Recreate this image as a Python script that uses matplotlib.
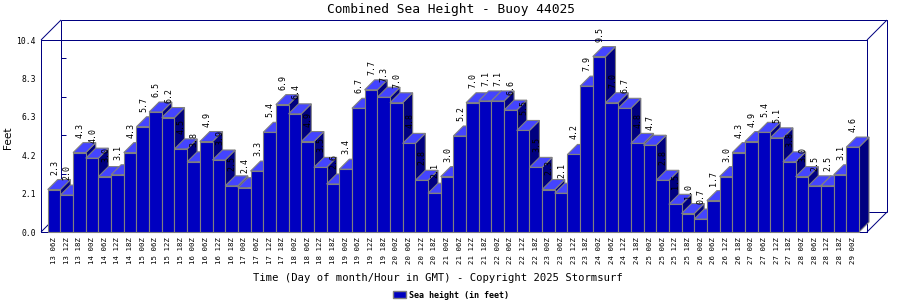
import matplotlib
matplotlib.use("Agg")
import matplotlib.pyplot as plt
from matplotlib.patches import Rectangle, Polygon, Patch

# ---------------- data ----------------
time_labels = [
    "13 06Z", "13 12Z", "13 18Z",
    "14 00Z", "14 06Z", "14 12Z", "14 18Z",
    "15 00Z", "15 06Z", "15 12Z", "15 18Z",
    "16 00Z", "16 06Z", "16 12Z", "16 18Z",
    "17 00Z", "17 06Z", "17 12Z", "17 18Z",
    "18 00Z", "18 06Z", "18 12Z", "18 18Z",
    "19 00Z", "19 06Z", "19 12Z", "19 18Z",
    "20 00Z", "20 06Z", "20 12Z", "20 18Z",
    "21 00Z", "21 06Z", "21 12Z", "21 18Z",
    "22 00Z", "22 06Z", "22 12Z", "22 18Z",
    "23 00Z", "23 06Z", "23 12Z", "23 18Z",
    "24 00Z", "24 06Z", "24 12Z", "24 18Z",
    "25 00Z", "25 06Z", "25 12Z", "25 18Z",
    "26 00Z", "26 06Z", "26 12Z", "26 18Z",
    "27 00Z", "27 06Z", "27 12Z", "27 18Z",
    "28 00Z", "28 06Z", "28 12Z", "28 18Z",
    "29 00Z",
]
sea_height = [
    2.3, 2.0, 4.3,
    4.0, 3.0, 3.1, 4.3,
    5.7, 6.5, 6.2, 4.5,
    3.8, 4.9, 3.9, 2.5,
    2.4, 3.3, 5.4, 6.9,
    6.4, 4.9, 3.5, 2.6,
    3.4, 6.7, 7.7, 7.3,
    7.0, 4.8, 2.8, 2.1,
    3.0, 5.2, 7.0, 7.1,
    7.1, 6.6, 5.5, 3.5,
    2.3, 2.1, 4.2, 7.9,
    9.5, 7.0, 6.7, 4.8,
    4.7, 2.8, 1.5, 1.0,
    0.7, 1.7, 3.0, 4.3,
    4.9, 5.4, 5.1, 3.8,
    3.0, 2.5, 2.5, 3.1,
    4.6,
]
y_ticks = [0.0, 2.08, 4.16, 6.24, 8.32, 10.4]
y_tick_labels = ["0.0", "2.1", "4.2", "6.3", "8.3", "10.4"]
y_max = 10.4

title = "Combined Sea Height - Buoy 44025"
x_title = "Time (Day of month/Hour in GMT) - Copyright 2025 Stormsurf"
y_title = "Feet"
legend_label = "Sea height (in feet)"

# ---------------- style ----------------
FRONT = "#0000c0"
TOP = "#4444ff"
SIDE = "#000080"
EDGE = "#808080"
FRAME = "#000080"
MONO = "DejaVu Sans Mono"
PX = 0.72  # one pixel in points at dpi 100

W, H, DPI = 900, 300, 100
fig = plt.figure(figsize=(W / DPI, H / DPI), dpi=DPI)
fig.patch.set_facecolor("white")

ax_left, ax_bottom, ax_w, ax_h = 41, 68, 826, 192  # pixels
ax = fig.add_axes([ax_left / W, ax_bottom / H, ax_w / W, ax_h / H])
x_min, x_max = -1.03, 64.13
ax.set_xlim(x_min, x_max)
ax.set_ylim(0, y_max)
ax.set_facecolor("none")

ppu_x = ax_w / (x_max - x_min)
ppu_y = ax_h / y_max
frame_d = 20   # px depth of the 3D box
bar_d = 10     # px depth of the bars
fdx, fdy = frame_d / ppu_x, frame_d / ppu_y
bdx, bdy = bar_d / ppu_x, bar_d / ppu_y

lw = PX
# spines = front plane of the box
for s in ax.spines.values():
    s.set_color(FRAME)
    s.set_linewidth(lw)
    s.set_zorder(1)

kw = dict(color=FRAME, lw=lw, clip_on=False, zorder=1, solid_capstyle="butt")
# back plane
ax.plot([x_min + fdx, x_max + fdx, x_max + fdx], [y_max + fdy, y_max + fdy, fdy], **kw)
ax.plot([x_min + fdx, x_min + fdx], [fdy, y_max + fdy], **kw)
ax.plot([x_min + fdx, x_max + fdx], [fdy, fdy], **kw)
# connectors
for xx, yy in [(x_min, y_max), (x_max, y_max), (x_max, 0), (x_min, 0)]:
    ax.plot([xx, xx + fdx], [yy, yy + fdy], **kw)
# back-plane ticks
for t in y_ticks[1:-1]:
    ax.plot([x_min + fdx, x_min + fdx + 5 / ppu_x], [t + fdy, t + fdy], **kw)

# bars
elw = 0.8
for i, v in enumerate(sea_height):
    z = 5 + i * 4
    l, r = i - 0.5, i + 0.5
    side = Polygon([(r, 0), (r + bdx, bdy), (r + bdx, v + bdy), (r, v)],
                   closed=True, facecolor=SIDE, edgecolor=EDGE, lw=elw, zorder=z,
                   clip_on=False)
    top = Polygon([(l, v), (r, v), (r + bdx, v + bdy), (l + bdx, v + bdy)],
                  closed=True, facecolor=TOP, edgecolor=EDGE, lw=elw, zorder=z + 1,
                  clip_on=False)
    front = Rectangle((l, 0), 1, v, facecolor=FRONT, edgecolor=EDGE, lw=elw,
                      zorder=z + 2, clip_on=False)
    ax.add_patch(side)
    ax.add_patch(top)
    ax.add_patch(front)
    ax.annotate(f"{v:.1f}", (i, v), xytext=(0.5, 15 * PX), textcoords="offset points",
                rotation=90, ha="center", va="bottom", fontsize=6, family=MONO,
                color="black", zorder=z + 3, annotation_clip=False)

# ticks
ax.set_xticks(range(len(time_labels)))
ax.set_xticklabels(time_labels, rotation=90, family=MONO, fontsize=5.3)
ax.set_yticks(y_ticks)
ax.set_yticklabels(y_tick_labels, family=MONO, fontsize=5.8)
ax.tick_params(axis="x", length=0, pad=3.6)
ax.tick_params(axis="y", length=0, pad=3.6)

# texts
fig.text(451 / W, 1 - 9 / H, title, ha="center", va="center", family=MONO, fontsize=9.3)
fig.text(438 / W, 1 - 278 / H, x_title, ha="center", va="center", family=MONO, fontsize=7.6)
fig.text(8 / W, 1 - 138 / H, y_title, ha="center", va="center", rotation=90,
         family="DejaVu Sans", fontsize=7.6)

handle = Patch(facecolor=FRONT, edgecolor=EDGE, lw=1.0)
fig.legend([handle], [legend_label], loc="center", bbox_to_anchor=(451 / W, 1 - 295 / H),
           frameon=False, prop={"family": MONO, "size": 6, "weight": "bold"},
           handlelength=1.6, handleheight=0.85, handletextpad=0.35,
           borderpad=0, borderaxespad=0)

fig.savefig("out.png", dpi=DPI, facecolor="white")
